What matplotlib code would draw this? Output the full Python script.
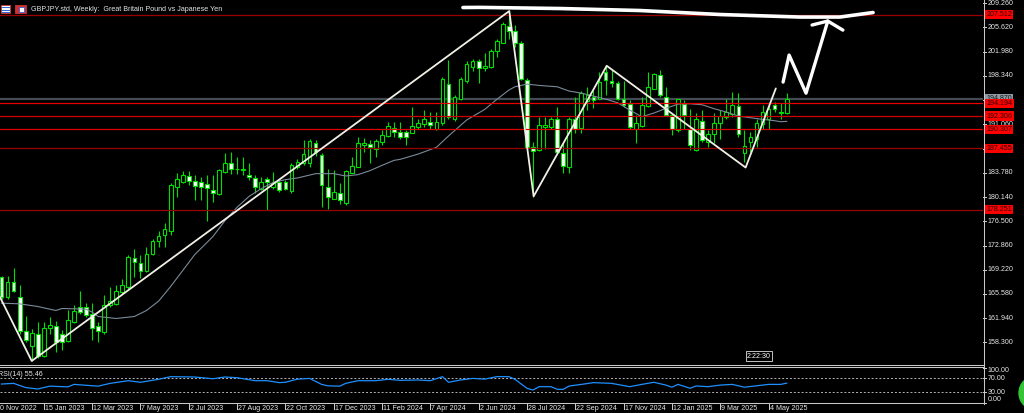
import numpy as np
import pandas as pd
import matplotlib
matplotlib.use("Agg")
import matplotlib.pyplot as plt
from matplotlib import transforms
from matplotlib.lines import Line2D
from matplotlib.patches import Circle, Rectangle

plt.rcParams['font.family'] = ['Liberation Sans', 'DejaVu Sans']
FS = 5.1

# weekly GBPJPY candles, bar 0 = week of 27 Nov 2022
first_week = pd.Timestamp("2022-11-27")
opens = [168.1, 165.2, 167.4, 165.2, 160.0, 157.7, 159.5, 156.2, 160.4, 160.7,
         159.5, 158.5, 161.3, 163.6, 163.6, 162.5, 160.7, 159.8, 163.9, 164.1,
         165.9, 166.6, 171.0, 170.3, 169.0, 171.6, 173.5, 174.4, 175.1, 181.7,
         182.4, 183.3, 182.6, 182.4, 182.1, 181.2, 180.6, 183.9, 185.2, 184.4,
         184.2, 183.4, 183.0, 181.4, 182.8, 181.7, 182.4, 182.4, 181.1, 184.7,
         185.2, 185.3, 188.3, 186.5, 181.7, 179.9, 180.8, 179.3, 183.8, 184.7,
         188.0, 188.1, 187.4, 188.4, 189.3, 190.5, 189.9, 189.9, 189.8, 190.7,
         191.1, 191.4, 190.4, 191.2, 197.1, 191.8, 194.8, 197.5, 199.7, 200.6,
         199.5, 199.7, 202.0, 203.3, 205.8, 205.0, 203.3, 197.7, 187.7, 187.2,
         190.7, 190.6, 191.9, 186.8, 184.7, 191.8, 190.5, 194.5, 195.2, 194.9,
         198.95, 197.6, 197.3, 194.9, 194.1, 190.4, 190.8, 193.8, 196.4, 198.45,
         195.2, 192.4, 190.2, 194.1, 190.4, 187.2, 191.5, 188.4, 189.6, 191.2,
         192.2, 192.6, 193.8, 186.7, 188.4, 188.8, 191.1, 191.8, 193.9, 192.7,
         192.7]
highs = [168.3, 168.3, 169.5, 167.0, 162.3, 160.3, 161.4, 161.4, 162.1, 161.5,
         160.2, 163.1, 163.9, 166.1, 164.2, 164.3, 161.4, 165.5, 166.6, 166.9,
         167.9, 171.4, 172.4, 171.5, 172.6, 173.9, 175.1, 176.2, 182.3, 183.7,
         184.0, 184.1, 183.4, 183.2, 183.4, 183.4, 184.4, 186.7, 186.9, 186.2,
         186.1, 185.2, 183.4, 183.1, 183.1, 183.9, 182.7, 182.7, 185.3, 185.9,
         188.7, 188.8, 188.7, 186.7, 184.4, 184.2, 182.3, 184.2, 186.2, 189.1,
         189.0, 188.7, 188.9, 190.2, 191.4, 191.4, 191.4, 190.2, 193.7, 191.9,
         193.2, 192.9, 192.9, 198.2, 200.7, 195.4, 198.1, 200.5, 200.8, 200.8,
         201.7, 202.3, 203.8, 206.5, 208.0, 206.0, 203.6, 198.0, 188.4, 192.2,
         192.2, 192.2, 193.7, 188.2, 192.2, 195.2, 196.0, 196.7, 196.2, 198.95,
         199.95, 199.2, 197.6, 197.6, 194.7, 192.4, 195.1, 198.95, 198.8, 199.2,
         196.6, 192.6, 194.9, 194.7, 193.3, 192.7, 193.2, 190.2, 192.7, 193.2,
         194.9, 195.9, 195.8, 190.2, 189.9, 191.9, 193.9, 193.9, 194.4, 194.2,
         195.7]
lows = [164.9, 164.9, 165.9, 159.6, 158.3, 155.5, 156.0, 156.1, 159.6, 156.8,
        157.1, 158.3, 161.2, 162.6, 162.1, 158.6, 158.3, 159.6, 163.6, 163.9,
        165.6, 166.4, 168.1, 168.0, 168.9, 171.4, 172.6, 172.6, 174.4, 180.1,
        182.2, 181.9, 179.7, 179.7, 176.5, 179.4, 180.4, 183.7, 183.6, 183.6,
        183.4, 182.7, 180.8, 181.2, 178.2, 181.4, 180.9, 181.2, 180.8, 184.4,
        184.9, 184.6, 186.3, 178.7, 178.4, 179.8, 179.1, 178.9, 183.7, 184.6,
        186.9, 185.3, 186.2, 187.9, 189.1, 189.1, 188.9, 187.9, 189.7, 190.4,
        190.7, 190.4, 190.2, 190.9, 191.9, 191.6, 194.7, 197.3, 199.0, 197.3,
        199.1, 199.5, 201.1, 203.2, 203.8, 202.7, 197.7, 187.5, 180.2, 187.1,
        187.4, 190.4, 186.8, 183.8, 183.7, 189.7, 189.7, 193.2, 193.5, 194.8,
        195.4, 196.7, 194.7, 193.7, 190.4, 188.2, 190.6, 193.7, 196.3, 195.2,
        192.3, 189.4, 189.9, 190.4, 187.2, 187.1, 188.4, 187.7, 188.3, 188.8,
        191.9, 192.2, 189.1, 185.4, 186.9, 187.6, 190.3, 190.4, 192.9, 191.9,
        192.6]
closes = [165.1, 167.4, 166.0, 160.0, 158.6, 159.7, 156.2, 160.5, 160.9, 158.3,
          158.3, 161.6, 163.0, 162.9, 162.4, 160.5, 160.0, 163.9, 164.5, 166.1,
          167.0, 171.1, 170.4, 169.0, 171.6, 173.6, 174.3, 175.4, 182.0, 182.9,
          183.4, 182.6, 181.8, 181.7, 181.5, 180.8, 184.2, 185.3, 184.3, 184.3,
          184.4, 183.1, 181.7, 182.4, 182.4, 182.3, 181.2, 181.4, 184.9, 185.4,
          186.6, 188.6, 186.9, 181.9, 180.2, 180.9, 179.7, 184.1, 184.8, 188.3,
          188.3, 187.6, 188.6, 189.4, 190.8, 189.9, 189.2, 189.2, 190.8, 191.3,
          191.8, 190.9, 191.4, 197.9, 192.1, 195.2, 197.8, 200.1, 200.6, 199.5,
          199.8, 202.1, 203.5, 206.1, 205.1, 203.3, 197.8, 187.7, 187.1, 191.0,
          190.9, 191.9, 186.9, 184.8, 191.9, 190.3, 195.7, 195.4, 194.7, 197.45,
          197.7, 197.2, 194.8, 193.9, 190.6, 191.2, 193.9, 196.6, 198.6, 195.4,
          192.4, 190.3, 194.8, 192.4, 187.9, 191.8, 188.7, 189.6, 191.3, 192.3,
          192.9, 193.9, 189.6, 187.8, 189.1, 191.3, 192.9, 193.4, 193.3, 192.9,
          194.87]

# moving average (bar, price)
ma_bars = [0, 3, 6, 9, 10, 14, 15, 16, 19, 22, 24, 26, 28, 30, 32, 33, 35, 37, 39, 41,
           43, 45, 47, 49, 52, 55, 57, 59, 61, 63, 65, 66, 69, 72, 74, 77, 80, 82, 84, 85,
           87, 89, 92, 94, 96, 98, 100, 102, 104, 106, 108, 110, 112, 114, 116, 118, 120,
           122, 124, 126, 128, 129, 130]
ma_vals = [164.2, 164.1, 163.7, 163.1, 163.4, 163.3, 162.85, 162.2, 161.9, 162.2,
           163.1, 164.5, 166.7, 169.1, 171.5, 172.4, 174.2, 176.6, 178.6, 180.25,
           181.4, 182.35, 182.75, 183.0, 183.65, 183.65, 183.3, 183.5, 184.1, 184.9,
           185.65, 185.8, 186.6, 187.6, 189.3, 191.7, 193.3, 194.8, 196.2, 196.7,
           197.1, 196.9, 196.7, 196.05, 195.75, 195.3, 194.85, 194.3, 193.2, 192.2,
           192.75, 193.45, 194.1, 194.15, 194.0, 193.4, 192.9, 192.3, 192.05, 191.8,
           191.6, 191.45, 191.5]

# RSI(14)
rsi_bars = [0, 2, 4, 6, 8, 11, 12, 16, 18, 21, 23, 26, 28, 32, 35, 37, 39, 42, 44, 46,
            47, 49, 51, 53, 54, 56, 57, 59, 62, 64, 66, 69, 71, 73, 74, 76, 78, 80, 82, 84,
            85, 87, 88, 89, 91, 92, 93, 94, 96, 98, 101, 104, 106, 108, 110, 111, 112, 114,
            115, 117, 119, 121, 123, 125, 127, 129, 130]
rsi_vals = [53, 55, 43, 39, 47, 45, 52, 47, 55, 62.5, 58, 66.5, 74, 73, 68, 73, 71, 62.5,
            62.5, 57, 58, 67, 69, 52, 48, 47, 55, 62.5, 62.5, 66.5, 63.5, 64.5, 62.5, 74,
            58, 64.5, 69, 67, 74, 74, 66.5, 41, 36, 45.5, 45.5, 38, 38, 47.5, 52, 57, 55,
            45.5, 52, 58, 50, 44, 52, 41, 47.5, 45.5, 50, 52, 44, 48, 52, 52, 55.5]
rsi_last = 55.46

level_prices = [207.512, 194.194, 192.306, 190.307, 187.455, 178.251]
level_colors = ['#9a0000', '#e80000', '#d00000', '#e00000', '#9a0000', '#9a0000']
bid_price = 194.870
price_ticks = [209.260, 205.620, 201.980, 198.340, 194.700, 191.060, 187.420,
               183.780, 180.140, 176.500, 172.860, 169.220, 165.580, 161.940, 158.300]
date_ticks = ["2022-11-20", "2023-01-15", "2023-03-12", "2023-05-07", "2023-07-02",
              "2023-08-27", "2023-10-22", "2023-12-17", "2024-02-11", "2024-04-07",
              "2024-06-02", "2024-07-28", "2024-09-22", "2024-11-17", "2025-01-12",
              "2025-03-09", "2025-05-04"]

# drawn pattern lines (bar, price)
zigzag_bars = [-0.25, 5.0, 84.07, 88.1, 100.2, 123.2, 128.2]
zigzag_prices = [165.11, 155.52, 208.07, 180.25, 199.85, 184.57, 196.45]
top_bars = [76.4, 79.2, 92.5, 105.7, 119.0, 132.2, 138.8, 144.3]
top_prices = [208.60, 208.62, 208.45, 208.15, 207.55, 207.17, 207.17, 207.85]
arrow_bars = [129.4, 130.4, 133.2, 136.8]
arrow_prices = [197.40, 201.46, 195.74, 206.57]
head_bars = [134.2, 136.8, 139.3]
head_prices = [205.97, 206.57, 205.21]

GREEN = '#00e000'
W, H = 1024, 413


def box(x0, y0, x1, y1):
    return [x0 / W, 1 - y1 / H, (x1 - x0) / W, (y1 - y0) / H]


def fx(x):
    return x / W


def fy(y):
    return 1 - y / H


fig = plt.figure(figsize=(W / 100, H / 100), dpi=100, facecolor='black')
ax = fig.add_axes(box(0, 0, 983, 364.5))
ax2 = fig.add_axes(box(0, 367.5, 983, 402.7))
for a in (ax, ax2):
    a.set_axis_off()
    a.set_xlim(-0.25, 162.5)
ax.set_ylim(154.99, 209.73)
ax2.set_ylim(0, 100)

# candles
o, hi, lo, c = map(np.array, (opens, highs, lows, closes))
k = np.arange(len(o))
up = c >= o
ax.vlines(k, lo, hi, colors=GREEN, lw=0.8, zorder=3)
body_h = np.maximum(np.abs(c - o), 0.1)
ax.bar(k, body_h, bottom=np.minimum(o, c), width=0.62,
       color=np.where(up, 'black', 'white'), edgecolor=GREEN, lw=0.8, zorder=4)

ax.plot(ma_bars, ma_vals, color='#7a8a99', lw=0.8, zorder=5)

# horizontal levels
ax.axhline(bid_price, color='#454b52', lw=1.6, zorder=2)
for p, col in zip(level_prices, level_colors):
    ax.axhline(p, color=col, lw=0.9, zorder=6)

# pattern lines and freehand marks
ax.plot(zigzag_bars, zigzag_prices, color='#f2f0e6', lw=1.3, zorder=7,
        solid_capstyle='round', clip_on=False)
ax.plot(top_bars, top_prices, color='white', lw=2.6, zorder=8,
        solid_capstyle='round', solid_joinstyle='round')
ax.plot(arrow_bars, arrow_prices, color='white', lw=2.4, zorder=8,
        solid_capstyle='round', solid_joinstyle='round')
ax.plot(head_bars, head_prices, color='white', lw=2.4, zorder=8,
        solid_capstyle='round', solid_joinstyle='round')

# price scale
tr = transforms.blended_transform_factory(fig.transFigure, ax.transData)
txt = dict(fontsize=FS, color='#e6e6e6', va='center', ha='left')
for p in price_ticks:
    ax.plot([fx(983), fx(986)], [p, p], transform=tr, color='#d0d0d0', lw=0.7, clip_on=False)
    ax.text(fx(987.5), p, f"{p:.3f}", transform=tr, zorder=3, **txt)
ax.text(fx(986.5), bid_price, f"{bid_price:.3f}", transform=tr, zorder=9, fontsize=FS,
        color='#1a1a1a', va='center', ha='left',
        bbox=dict(boxstyle='square,pad=0.15', fc='#8d99a3', ec='none'))
for p in level_prices:
    ax.text(fx(986.5), p, f"{p:.3f}", transform=tr, zorder=10, fontsize=FS,
            color='#2a0000', va='center', ha='left',
            bbox=dict(boxstyle='square,pad=0.15', fc='#ff0000', ec='none'))

# RSI panel
ax2.plot(rsi_bars, rsi_vals, color='#1e90ff', lw=0.9, zorder=3)
for lvl in (70, 30):
    ax2.axhline(lvl, color='#b4b4b4', lw=0.7, ls=(0, (2, 2)))
tr2 = transforms.blended_transform_factory(fig.transFigure, ax2.transData)
for lvl in (100, 70, 30, 0):
    ax2.plot([fx(983), fx(986)], [lvl, lvl], transform=tr2, color='#d0d0d0', lw=0.7, clip_on=False)
for lab, ypx in (("100.00", 371), ("70.00", 378), ("30.00", 392.7), ("0.00", 399.3)):
    fig.text(fx(987.5), fy(ypx), lab, **txt)
fig.text(fx(-2), fy(374.5), f"RSI(14) {rsi_last:.2f}", **txt)

# frame lines
for x0, y0, x1, y1 in ((983.5, 0, 983.5, 403.5), (0, 364.6, 983.5, 364.6),
                       (0, 366.8, 983.5, 366.8), (0, 403, 983.5, 403)):
    fig.add_artist(Line2D([fx(x0), fx(x1)], [fy(y0), fy(y1)], color='#c8c8c8', lw=0.75))

# time scale
trd = transforms.blended_transform_factory(ax2.transData, fig.transFigure)
for d in date_ticks:
    t = pd.Timestamp(d)
    b = (t - first_week).days / 7
    ax2.plot([b, b], [fy(403), fy(408.5)], transform=trd, color='#d0d0d0', lw=0.7, clip_on=False)
    ax2.text(b + 0.17, fy(408.5), f"{t.day} {t:%b %Y}", transform=trd, **txt)

# title and icons
fig.text(fx(31), fy(9.5), "GBPJPY.std, Weekly:  Great Britain Pound vs Japanese Yen", **txt)
fig.add_artist(Rectangle((fx(1), fy(13)), fx(9), 8 / H, fc='white', ec='#d03030', lw=0.6))
for yy in (7, 9.5, 12):
    fig.add_artist(Line2D([fx(2), fx(9)], [fy(yy), fy(yy)], color='#3060d0', lw=0.7))
fig.add_artist(Rectangle((fx(15), fy(13)), fx(11), 8 / H, fc='#d03030', ec='#d03030', lw=0.6))
fig.add_artist(Rectangle((fx(19), fy(12)), fx(5), 5 / H, fc='white', ec='#3060d0', lw=0.6))

# timer box
fig.text(fx(747), fy(356), "2:22:30", fontsize=FS, color='white', va='center', ha='left',
         bbox=dict(boxstyle='square,pad=0.2', fc='black', ec='#e0e0e0', lw=0.6))

# green badge at the corner
fig.add_artist(Circle((10.36, 0.20), 0.17, transform=fig.dpi_scale_trans, color='#35c435'))

fig.savefig("out.png", dpi=100, facecolor='black')
